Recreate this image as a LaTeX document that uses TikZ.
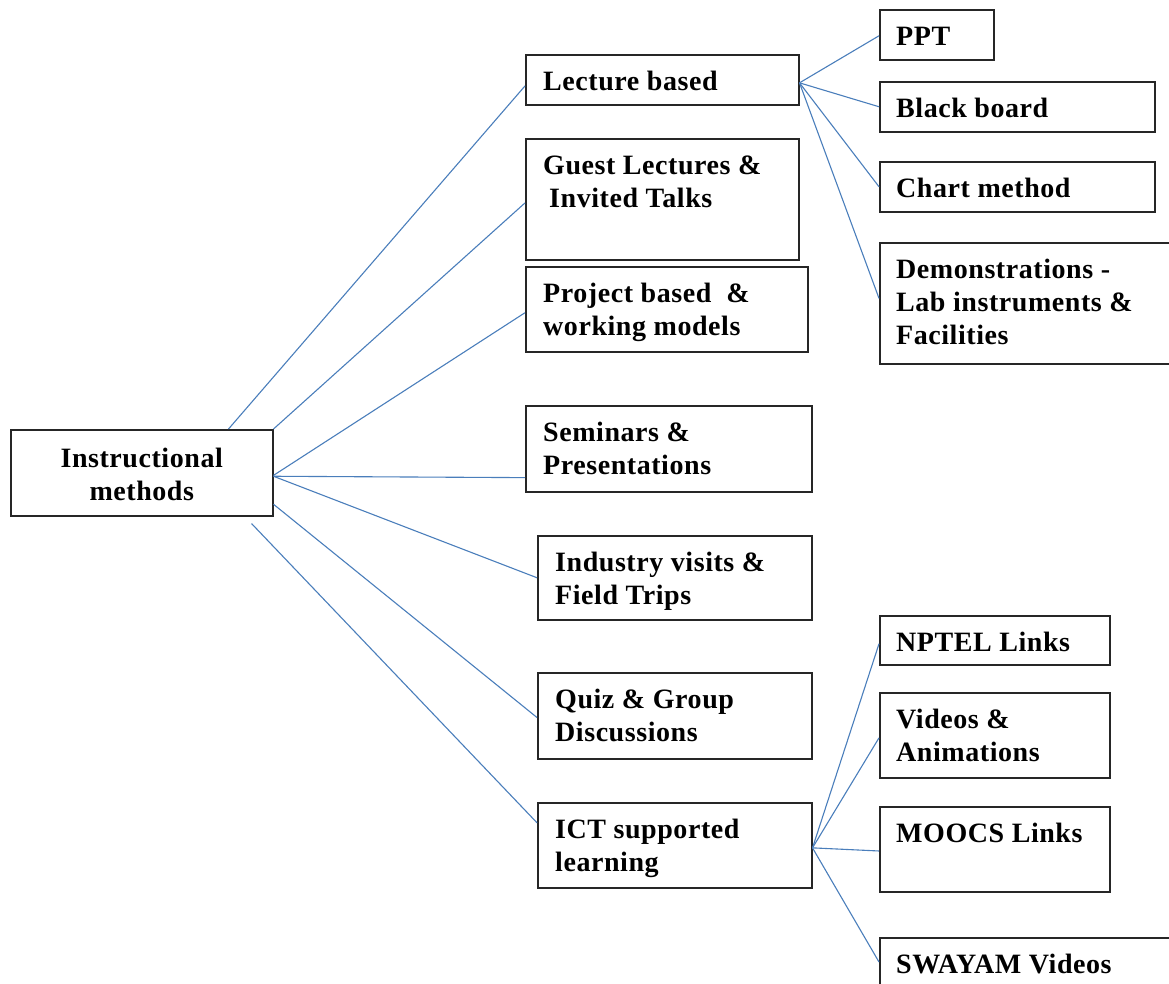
\documentclass[tikz,border=0pt]{standalone}
\usepackage{fontspec}
\setmainfont{Liberation Serif}[LetterSpace=2]
\usetikzlibrary{calc}

\definecolor{linkblue}{RGB}{74,126,187}
\definecolor{edge}{RGB}{38,38,38}

\tikzset{
  box/.style={draw=edge, line width=1.5pt, fill=white, anchor=north west, inner sep=0pt},
  lbl/.style={anchor=base west, inner sep=0pt, font=\bfseries\fontsize{28}{33}\selectfont},
  conn/.style={draw=linkblue, line width=1.1pt},
}

% name, left, top, width, height, text indent, text
\newcommand\tbox[7]{%
  \node[box, minimum width=#4pt, minimum height=#5pt] (#1) at (#2,#3) {};
  \node[lbl] (#1-t) at ($(#1.north west)+(#6,36)$) {\parbox[t]{300pt}{\raggedright #7}};
}

\begin{document}
\begin{tikzpicture}[x=1pt, y=-1pt]
  \useasboundingbox (0,0) rectangle (1169,983);
  \clip (0,0) rectangle (1169,983);

  % root
  \node[box, minimum width=262pt, minimum height=86pt] (im) at (10,429) {};
  \node[lbl, anchor=base] (im-t) at ($(im.north)+(0,38)$)
    {\parbox[t]{240pt}{\centering Instructional\\methods}};

  % second level
  \tbox{lec}{525}{54}{273}{50}{18}{Lecture based}
  \tbox{guest}{525}{138}{273}{121}{18}{Guest Lectures \&\\\hspace*{6pt}Invited Talks}
  \tbox{proj}{525}{266}{282}{85}{18}{Project based\ \ \&\\working models}
  \tbox{sem}{525}{405}{286}{86}{18}{Seminars \&\\Presentations}
  \tbox{ind}{537}{535}{274}{84}{18}{Industry visits \&\\Field Trips}
  \tbox{quiz}{537}{672}{274}{86}{18}{Quiz \& Group\\Discussions}
  \tbox{ict}{537}{802}{274}{85}{18}{ICT supported\\learning}

  % third level: lecture aids
  \tbox{ppt}{879}{9}{114}{50}{17}{PPT}
  \tbox{bb}{879}{81}{275}{50}{17}{Black board}
  \tbox{chart}{879}{161}{275}{50}{17}{Chart method}
  \tbox{demo}{879}{242}{310}{121}{17}{Demonstrations -\\Lab instruments \&\\Facilities}

  % third level: ICT resources
  \tbox{nptel}{879}{615}{230}{49}{17}{NPTEL Links}
  \tbox{vid}{879}{692}{230}{85}{17}{Videos \&\\Animations}
  \tbox{mooc}{879}{806}{230}{85}{17}{MOOCS Links}
  \tbox{sway}{879}{937}{310}{60}{17}{SWAYAM Videos}

  % root to second level
  \draw[conn] ($(im.north east)+(-45,0)$) -- ($(lec.north west)!0.62!(lec.south west)$);
  \draw[conn] (im.north east) -- ($(guest.north west)!0.53!(guest.south west)$);
  \draw[conn] ($(im.north east)!0.53!(im.south east)$) -- ($(proj.north west)!0.54!(proj.south west)$);
  \draw[conn] ($(im.north east)!0.54!(im.south east)$) -- ($(sem.north west)!0.83!(sem.south west)$);
  \draw[conn] ($(im.north east)!0.54!(im.south east)$) -- ($(ind.north west)!0.5!(ind.south west)$);
  \draw[conn] ($(im.north east)!0.86!(im.south east)$) -- ($(quiz.north west)!0.52!(quiz.south west)$);
  \draw[conn] ($(im.south east)+(-22,7)$) -- ($(ict.north west)!0.24!(ict.south west)$);

  % lecture based to its aids
  \coordinate (lj) at ($(lec.north east)!0.56!(lec.south east)$);
  \draw[conn] (lj) -- ($(ppt.north west)!0.52!(ppt.south west)$);
  \draw[conn] (lj) -- (bb.west);
  \draw[conn] (lj) -- (chart.west);
  \draw[conn] (lj) -- ($(demo.north west)!0.46!(demo.south west)$);

  % ICT supported learning to its resources
  \coordinate (ij) at ($(ict.north east)!0.53!(ict.south east)$);
  \draw[conn] (ij) -- ($(nptel.north west)!0.57!(nptel.south west)$);
  \draw[conn] (ij) -- ($(vid.north west)!0.53!(vid.south west)$);
  \draw[conn] (ij) -- ($(mooc.north west)!0.52!(mooc.south west)$);
  \draw[conn] (ij) -- ($(sway.north west)+(0,25)$);
\end{tikzpicture}
\end{document}
